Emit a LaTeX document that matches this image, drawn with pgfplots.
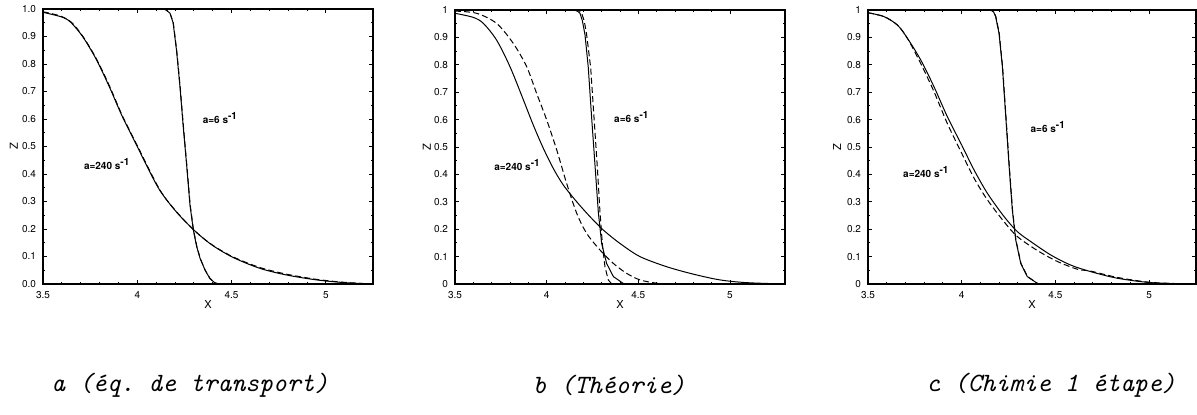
\documentclass[border=0pt]{standalone}
\usepackage{fontspec}
\setmainfont{TeX Gyre Heros}
\usepackage{pgfplots}
\pgfplotsset{compat=1.18}

\pgfplotsset{
  panel/.style={
    scale only axis,
    anchor=north west,
    ymin=0, ymax=1,
    xtick={3.5,4,4.5,5},
    minor x tick num=4,
    ytick={0,0.1,0.2,0.3,0.4,0.5,0.6,0.7,0.8,0.9,1},
    minor y tick num=1,
    tick align=inside,
    major tick length=2pt,
    minor tick length=1.2pt,
    axis line style={line width=0.8pt},
    every tick/.style={black, line width=0.5pt},
    ticklabel style={font=\fontsize{5}{6}\selectfont},
    /pgf/number format/assume math mode=true,
    yticklabel style={/pgf/number format/.cd, fixed, precision=1},
    xlabel={X}, ylabel={Z},
    label style={font=\fontsize{5.5}{6}\selectfont},
    xlabel style={at={(axis description cs:0.5,-0.076)}, anchor=center},
  },
  sol/.style={black, line width=0.5pt, no marks},
  dsh/.style={black, line width=0.5pt, no marks, dash pattern=on 3pt off 1.6pt},
}
\tikzset{lab/.style={anchor=west, font=\fontsize{5}{6}\selectfont\bfseries}}

\begin{document}
\frenchspacing
\begin{tikzpicture}
\useasboundingbox (0,0) rectangle (598.5pt,-207pt);

% ---- a : transport equation ----
\begin{axis}[panel, at={(21.5pt,-4.5pt)}, width=165pt, height=137.5pt,
  xmin=3.5, xmax=5.25,
  yticklabel style={/pgf/number format/fixed zerofill},
  ylabel style={at={(axis description cs:-0.088,0.5)}, anchor=center}]
  % a=240
  \addplot[sol, smooth, tension=0.5] coordinates {
    (3.5,0.988) (3.55,0.98) (3.59,0.973) (3.62,0.965) (3.65,0.95) (3.71,0.90)
    (3.78,0.82) (3.85,0.72) (3.92,0.61) (4.0,0.50) (4.05,0.43) (4.12,0.34)
    (4.21,0.26) (4.31,0.19) (4.40,0.14) (4.51,0.096) (4.65,0.057) (4.79,0.033)
    (4.95,0.015) (5.1,0.005) (5.25,0.0)
  };
  \addplot[dsh, smooth, tension=0.5] coordinates {
    (3.5,0.99) (3.59,0.975) (3.65,0.952) (3.71,0.902) (3.78,0.823) (3.85,0.724)
    (3.92,0.613) (4.0,0.503) (4.12,0.342) (4.21,0.261) (4.31,0.19) (4.40,0.141)
    (4.51,0.098) (4.65,0.06) (4.79,0.036) (4.95,0.017) (5.1,0.006) (5.25,0.0)
  };
  % a=6
  \addplot[sol] coordinates {
    (3.5,1) (4.12,1) (4.15,0.998) (4.173,0.985) (4.19,0.95) (4.208,0.85)
    (4.226,0.72) (4.244,0.57) (4.262,0.43) (4.279,0.29) (4.297,0.197)
    (4.315,0.136) (4.333,0.093) (4.36,0.05) (4.385,0.02) (4.41,0.005) (4.43,0) (5.25,0)
  };
  \addplot[dsh] coordinates {
    (3.5,1) (4.12,1) (4.15,0.998) (4.174,0.985) (4.191,0.95) (4.209,0.85)
    (4.227,0.72) (4.245,0.57) (4.263,0.43) (4.28,0.29) (4.298,0.197)
    (4.316,0.136) (4.334,0.093) (4.36,0.05) (4.386,0.02) (4.41,0.005) (4.43,0) (5.25,0)
  };
  \node[lab] at (axis cs:3.68,0.436) {a=240 s\textsuperscript{-1}};
  \node[lab] at (axis cs:4.31,0.604) {a=6 s\textsuperscript{-1}};
\end{axis}

% ---- b : theory ----
\begin{axis}[panel, at={(227.5pt,-5pt)}, width=165pt, height=137pt,
  xmin=3.5, xmax=5.3,
  ylabel style={at={(axis description cs:-0.085,0.5)}, anchor=center}]
  % a=240
  \addplot[sol, smooth, tension=0.5] coordinates {
    (3.5,0.988) (3.6,0.973) (3.655,0.951) (3.727,0.89) (3.8,0.793) (3.873,0.672)
    (3.927,0.58) (3.982,0.495) (4.036,0.422) (4.091,0.361) (4.164,0.3)
    (4.236,0.246) (4.309,0.197) (4.4,0.148) (4.509,0.1) (4.655,0.063)
    (4.8,0.036) (4.945,0.015) (5.09,0.005) (5.3,0)
  };
  \addplot[dsh, smooth, tension=0.5] coordinates {
    (3.5,0.996) (3.618,0.988) (3.727,0.951) (3.818,0.878) (3.891,0.793)
    (3.945,0.696) (4.0,0.599) (4.055,0.489) (4.109,0.367) (4.164,0.258)
    (4.218,0.185) (4.291,0.124) (4.364,0.075) (4.436,0.039) (4.509,0.015)
    (4.6,0.003) (4.69,0) (5.3,0)
  };
  % a=6
  \addplot[sol] coordinates {
    (3.5,1) (4.15,1) (4.17,0.995) (4.182,0.988) (4.195,0.96) (4.209,0.91)
    (4.227,0.79) (4.245,0.61) (4.264,0.43) (4.282,0.26) (4.30,0.148)
    (4.327,0.075) (4.364,0.027) (4.418,0.002) (4.45,0) (5.3,0)
  };
  \addplot[dsh] coordinates {
    (3.5,1) (4.165,1) (4.18,0.996) (4.191,0.988) (4.205,0.96) (4.218,0.91)
    (4.24,0.79) (4.258,0.61) (4.276,0.43) (4.291,0.26) (4.305,0.136)
    (4.318,0.063) (4.336,0.015) (4.355,0) (5.3,0)
  };
  \node[lab] at (axis cs:3.676,0.434) {a=240 s\textsuperscript{-1}};
  \node[lab] at (axis cs:4.33,0.61) {a=6 s\textsuperscript{-1}};
\end{axis}

% ---- c : one-step chemistry ----
\begin{axis}[panel, at={(434pt,-5pt)}, width=164pt, height=137pt,
  xmin=3.5, xmax=5.25,
  ylabel style={at={(axis description cs:-0.094,0.5)}, anchor=center}]
  % a=240
  \addplot[sol, smooth, tension=0.5] coordinates {
    (3.5,0.99) (3.585,0.976) (3.657,0.945) (3.71,0.897) (3.781,0.818)
    (3.852,0.72) (3.923,0.611) (4.0,0.507) (4.066,0.416) (4.137,0.331)
    (4.226,0.246) (4.297,0.191) (4.368,0.155) (4.475,0.106) (4.582,0.069)
    (4.689,0.045) (4.831,0.021) (5.009,0.005) (5.222,0) (5.25,0)
  };
  \addplot[dsh, smooth, tension=0.5] coordinates {
    (3.5,0.99) (3.585,0.976) (3.657,0.945) (3.71,0.897) (3.781,0.805)
    (3.852,0.702) (3.923,0.586) (4.0,0.477) (4.066,0.386) (4.137,0.307)
    (4.226,0.227) (4.297,0.173) (4.404,0.122) (4.511,0.082) (4.617,0.054)
    (4.689,0.047) (4.831,0.024) (5.009,0.006) (5.222,0) (5.25,0)
  };
  % a=6
  \addplot[sol] coordinates {
    (3.5,1) (4.155,1) (4.17,0.993) (4.181,0.976) (4.199,0.915) (4.217,0.793)
    (4.235,0.611) (4.253,0.428) (4.27,0.27) (4.288,0.161) (4.315,0.075)
    (4.35,0.027) (4.404,0.002) (4.43,0) (5.25,0)
  };
  \addplot[dsh] coordinates {
    (3.5,1) (4.156,1) (4.171,0.993) (4.182,0.976) (4.2,0.915) (4.218,0.793)
    (4.236,0.611) (4.254,0.428) (4.271,0.27) (4.289,0.161) (4.316,0.075)
    (4.351,0.027) (4.405,0.002) (4.43,0) (5.25,0)
  };
  \node[lab] at (axis cs:3.65,0.409) {a=240 s\textsuperscript{-1}};
  \node[lab] at (axis cs:4.33,0.573) {a=6 s\textsuperscript{-1}};
\end{axis}

% captions
\begin{scope}[every node/.style={font=\fontsize{13.2}{15}\selectfont\ttfamily\itshape\frenchspacing}]
  \node at (95pt,-192.5pt) {a (éq. de transport)};
  \node at (304.5pt,-192.5pt) {b (Théorie)};
  \node at (525.5pt,-192.5pt) {c (Chimie 1 étape)};
\end{scope}
\end{tikzpicture}
\end{document}
